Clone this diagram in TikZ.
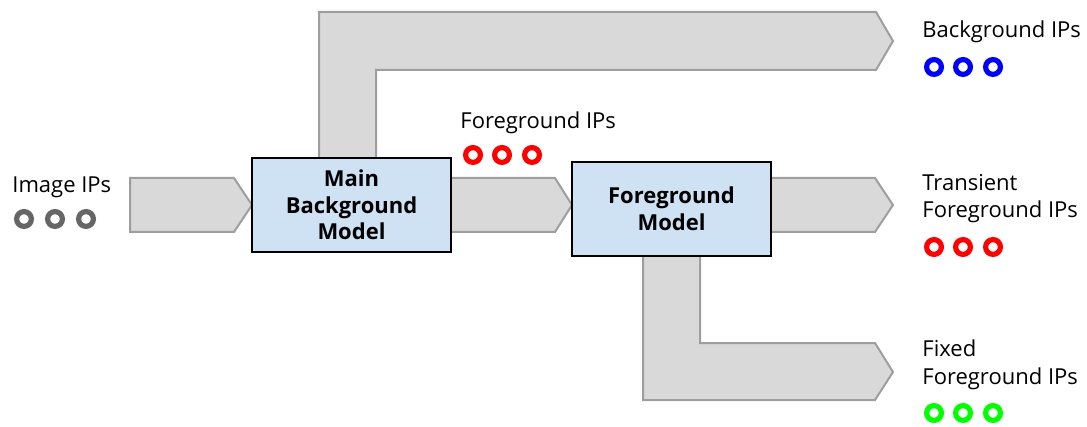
\documentclass[tikz,border=0pt]{standalone}
\usepackage{fontspec}
\setmainfont{Open Sans}
\definecolor{flowfill}{HTML}{D9D9D9}
\definecolor{flowline}{HTML}{9E9E9E}
\definecolor{modelfill}{HTML}{CFE2F3}
\definecolor{ipgray}{HTML}{666666}
\definecolor{ipblue}{HTML}{0000FF}
\definecolor{ipred}{HTML}{FF0000}
\definecolor{ipgreen}{HTML}{00FF00}
\begin{document}
\begin{tikzpicture}[x=0.5pt,y=-0.5pt,
  flow/.style={fill=flowfill, draw=flowline, line width=1pt, line join=miter},
  model/.style={draw=black, line width=1.2pt, fill=modelfill,
    minimum width=99.5pt, minimum height=47pt, inner sep=0pt, align=center,
    font=\bfseries\fontsize{11}{13.25}\selectfont},
  lbl/.style={anchor=base west, inner sep=0pt, align=left,
    font=\fontsize{11}{13.75}\selectfont},
  ip/.style={circle, draw=#1, line width=2.6pt, minimum size=7.4pt, inner sep=0pt}]
\useasboundingbox (0,0) rectangle (1087,427);

% flow arrows (drawn below the model boxes)
\draw[flow] (130,178) -- (234,178) -- (252,205) -- (234,232) -- (130,232) -- cycle;
\draw[flow] (319,160) -- (319,12) -- (876,12) -- (893,41) -- (876,70)
  -- (376,70) -- (376,160) -- cycle;
\draw[flow] (445,178) -- (555,178) -- (572,205) -- (555,232) -- (445,232) -- cycle;
\draw[flow] (765,178) -- (875,178) -- (893,205) -- (875,232) -- (765,232) -- cycle;
\draw[flow] (643,250) -- (643,400) -- (875,400) -- (893,372) -- (875,343)
  -- (700,343) -- (700,250) -- cycle;

% models
\node[model] (bgmodel) at (351.5,205) {Main\\Background\\Model};
\node[model] (fgmodel) at (671.5,209) {Foreground\\Model};

% labels (multi-line labels sit on the baseline of their last line)
\node[lbl] (imglbl) at (12,193) {Image IPs};
\node[lbl] (fglbl) at (460,129) {Foreground IPs};
\node[lbl] (bglbl) at (922,38) {Background IPs};
\node[lbl] (trlbl) at (922,218) {Transient\\Foreground IPs};
\node[lbl] (fxlbl) at (922,384) {Fixed\\Foreground IPs};

% interest points
\node[ip=ipgray] (img1) at (24,219) {};
\node[ip=ipgray] (img2) at (55,219) {};
\node[ip=ipgray] (img3) at (86,219) {};
\node[ip=ipred] (fg1) at (473,155) {};
\node[ip=ipred] (fg2) at (502,155) {};
\node[ip=ipred] (fg3) at (532,155) {};
\node[ip=ipblue] (bg1) at (934,67) {};
\node[ip=ipblue] (bg2) at (963,67) {};
\node[ip=ipblue] (bg3) at (993,67) {};
\node[ip=ipred] (tr1) at (934,247) {};
\node[ip=ipred] (tr2) at (963,247) {};
\node[ip=ipred] (tr3) at (993,247) {};
\node[ip=ipgreen] (fx1) at (934,413) {};
\node[ip=ipgreen] (fx2) at (963,413) {};
\node[ip=ipgreen] (fx3) at (993,413) {};
\end{tikzpicture}
\end{document}
